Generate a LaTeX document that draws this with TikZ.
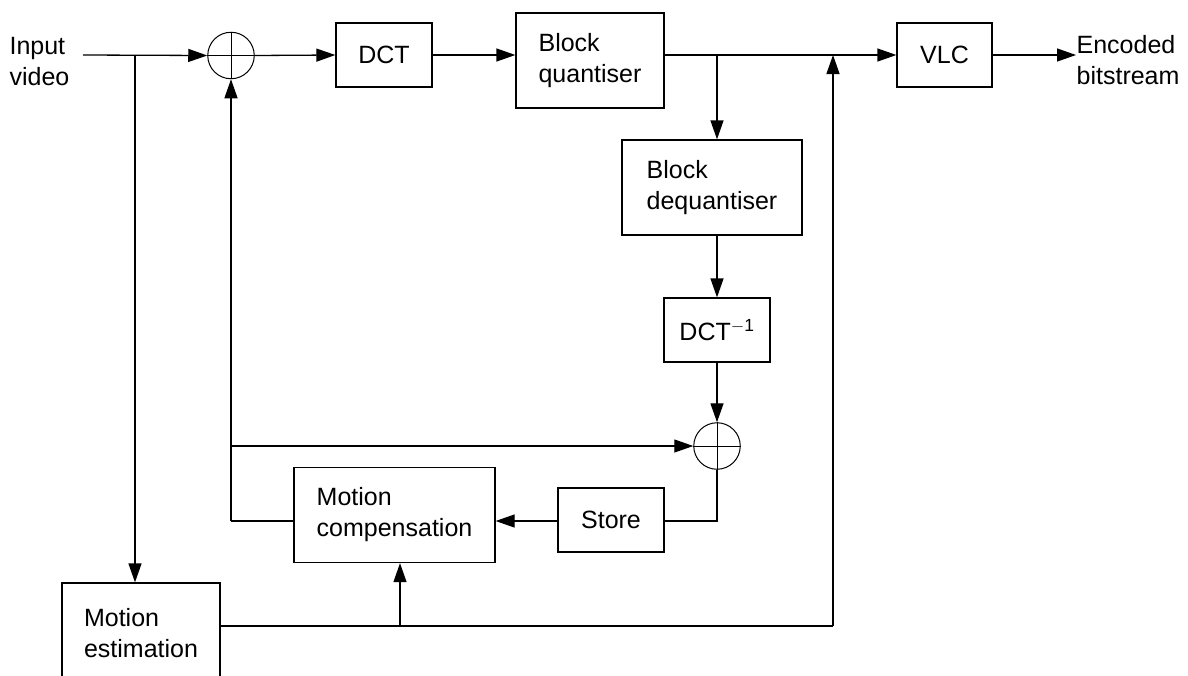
\documentclass[tikz,border=0pt]{standalone}
\usepackage{fontspec}
\setmainfont{Liberation Sans}
\usetikzlibrary{arrows.meta}
\begin{document}
\begin{tikzpicture}[x=1pt,y=-1pt, line width=1.3pt,
  txt/.style={font=\fontsize{25}{31}\selectfont},
  box/.style={draw, txt, inner sep=0pt, align=left},
  sumnode/.style={draw, circle, minimum size=46.5pt, inner sep=0pt, line width=1pt},
  lbl/.style={txt, align=left, inner sep=0pt},
  arr/.style={-{Triangle[length=19pt,width=13pt]}}
]
\useasboundingbox (0,0) rectangle (1188,675);
\clip (0,0) rectangle (1188,675);
% boxes
\node[box, minimum width=96pt, minimum height=64pt] (dct) at (384,55) {DCT};
\node[box, minimum width=148pt, minimum height=95pt] (bq) at (590,60.5) {Block\\quantiser};
\node[box, minimum width=95pt, minimum height=64pt] (vlc) at (944.5,55) {VLC};
\node[box, minimum width=180pt, minimum height=95pt] (bdq) at (712,187.5) {Block\\dequantiser};
\node[box, minimum width=106pt, minimum height=64pt] (idct) at (717,330) {DCT\textsuperscript{$-$1}};
\node[box, minimum width=201pt, minimum height=95pt] (mc) at (394.5,515) {Motion\\compensation};
\node[box, minimum width=106pt, minimum height=64pt] (st) at (611,520) {Store};
\node[box, minimum width=158pt, minimum height=100pt] (me) at (141,633) {Motion\\estimation};
% summing junctions
\node[sumnode] (s1) at (231,55.5) {};
\node[sumnode] (s2) at (717,446) {};
\draw[line width=1pt] (s1.north) -- (s1.south) (s1.west) -- (s1.east);
\draw[line width=1pt] (s2.north) -- (s2.south) (s2.west) -- (s2.east);
% labels
\node[lbl, anchor=east] (in) at (70,62) {Input\\video};
\node[lbl, anchor=west] (out) at (1076,60) {Encoded\\bitstream};
% coordinates
\coordinate (start) at (83,55);
\coordinate (b1) at (135,55);
\coordinate (b2) at (717,55);
\coordinate (j1) at (833,55);
\coordinate (j2) at (833,626);
\coordinate (b3) at (400,626);
\coordinate (c1) at (231,446);
\coordinate (c2) at (231,521);
\coordinate (c3) at (717,521);
% connectors
\draw[arr] (start) -- (s1.west);
\draw[arr] (b1) -- (me.north -| b1);
\draw[arr] (s1.east) -- (dct.west);
\draw[arr] (dct.east) -- (bq.west |- dct.east);
\draw[arr] (bq.east |- vlc.west) -- (vlc.west);
\draw[arr] (vlc.east) -- (out.west |- vlc.east);
\draw[arr] (b2) -- (bdq.north -| b2);
\draw[arr] (bdq.south -| idct.north) -- (idct.north);
\draw[arr] (idct.south) -- (s2.north);
\draw[arr] (c2) -- (s1.south);
\draw[arr] (c1) -- (s2.west);
\draw (c2) -- (mc.west |- c2);
\draw (s2.south) -- (c3) -- (st.east |- c3);
\draw[arr] (st.west |- c3) -- (mc.east |- c3);
\draw (me.east |- j2) -- (j2);
\draw[arr] (j2) -- (j1);
\draw[arr] (b3) -- (mc.south -| b3);
\end{tikzpicture}
\end{document}
